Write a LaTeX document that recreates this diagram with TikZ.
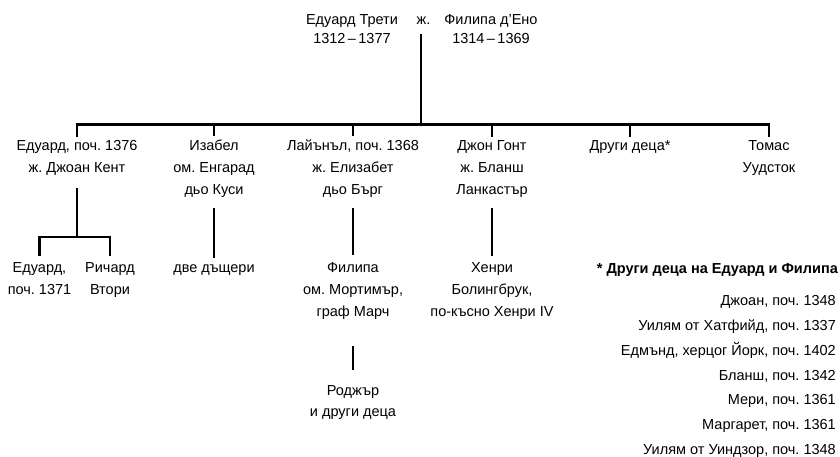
\documentclass[tikz,border=0pt]{standalone}
\usepackage{fontspec}
\setmainfont{Liberation Sans}
\frenchspacing
\tikzset{
  kin/.style={line width=2.7pt},
  drop/.style={kin, shorten <=6pt, shorten >=3pt},
  who/.style={align=center, anchor=base, inner xsep=0pt, inner ysep=4pt, font=\fontsize{14.5}{21.7}\selectfont},
}
\begin{document}
\begin{tikzpicture}[x=1pt,y=-1pt]
  \useasboundingbox (0,0) rectangle (840,457);
  % parents (base = last line)
  \node[who, font=\fontsize{14.5}{18.5}\selectfont](P1) at (352,43.5) {Едуард Трети\\1312\,–\,1377};
  \node[who](zh) at (423.5,25) {ж.};
  \node[who, font=\fontsize{14.5}{18.5}\selectfont](P2) at (491,43.5) {Филипа д’Ено\\1314\,–\,1369};
  \coordinate (bar) at (421,124.6);
  \draw[kin, shorten <=5pt] (bar |- zh.south) -- (bar);
  % children
  \foreach \x/\p/\q/\t in {1/77/172.7/{Едуард, поч. 1376\\ж. Джоан Кент}, 2/214/194.4/{Изабел\\ом. Енгарад\\дьо Куси},
      3/353/194.4/{Лайънъл, поч. 1368\\ж. Елизабет\\дьо Бърг}, 4/492/194.4/{Джон Гонт\\ж. Бланш\\Ланкастър},
      5/630/151/{Други деца*}, 6/769/172.7/{Томас\\Уудсток}}{
    \node[who](C\x) at (\p,\q) {\t};
  }
  \draw[kin] (C1.north) |- (bar) -| (C6.north);
  \foreach \x in {2,...,5}
    \draw[kin] (C\x.north |- bar) -- (C\x.north);
  % grandchildren
  \node[who](G1) at (39.5,294.4) {Едуард,\\поч. 1371};
  \node[who](G2) at (110,294.4) {Ричард\\Втори};
  \node[who](D) at (214,272.7) {две дъщери};
  \node[who](F) at (353,316.1) {Филипа\\ом. Мортимър,\\граф Марч};
  \node[who](H) at (492,316.1) {Хенри\\Болингбрук,\\по-късно Хенри IV};
  \node[who](R) at (353,416.7) {Роджър\\и други деца};
  \coordinate (eb) at (77,237);
  \draw[kin, shorten <=8pt] (C1.south) -- (eb);
  \draw[kin, shorten <=3pt, shorten >=3pt] (G1.north) |- (eb) -| (G2.north);
  \draw[drop] (C2.south) -- (D.north);
  \draw[drop] (C3.south) -- (F.north);
  \draw[drop] (C4.south) -- (H.north);
  \draw[kin, shorten <=23pt, shorten >=11pt] (F.south) -- (R.north);
  % other children
  \node[who, anchor=base east, font=\fontsize{14.5}{17}\selectfont\bfseries](note) at (838,273) {* Други деца на Едуард и Филипа};
  \foreach \i/\t in {1/{Джоан, поч. 1348}, 2/{Уилям от Хатфийд, поч. 1337}, 3/{Едмънд, херцог Йорк, поч. 1402},
      4/{Бланш, поч. 1342}, 5/{Мери, поч. 1361}, 6/{Маргарет, поч. 1361}, 7/{Уилям от Уиндзор, поч. 1348}}
    \node[who, anchor=base east](K\i) at (836,280.9+24.8*\i) {\t};
\end{tikzpicture}
\end{document}
